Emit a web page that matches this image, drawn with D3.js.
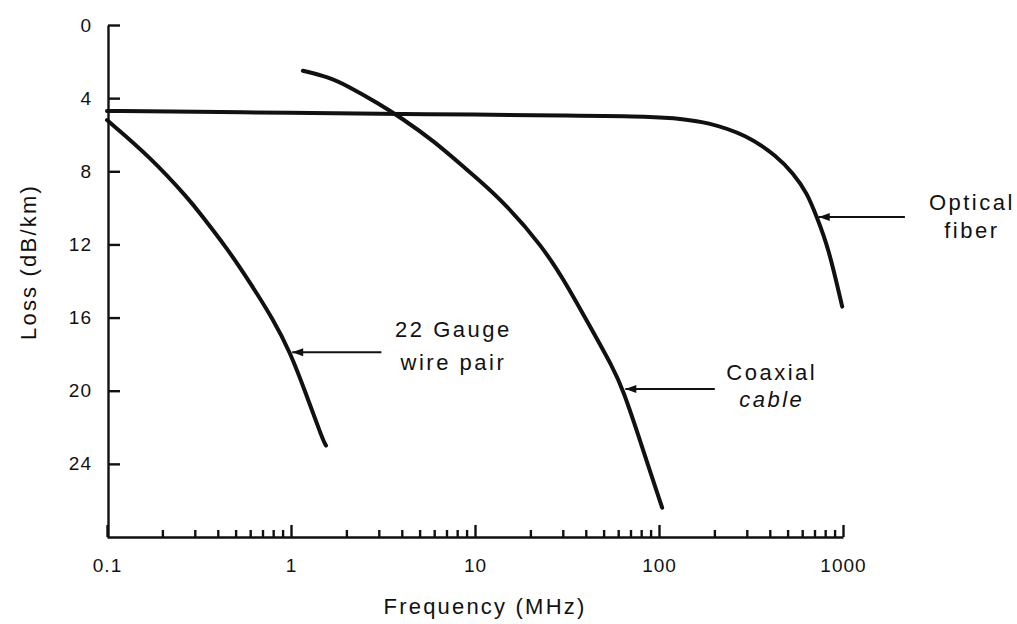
<!DOCTYPE html>
<html>
<head>
<meta charset="utf-8">
<script src="https://cdn.jsdelivr.net/npm/d3@7"></script>
<style>
  html, body { margin: 0; padding: 0; background: #fff; }
  svg { display: block; font-family: "Liberation Sans", Arial, sans-serif; }
  .axis path, .axis line { stroke: #111; stroke-width: 2.4; }
  .axis text { font-size: 19px; fill: #111; letter-spacing: 1px; }
  .curve { fill: none; stroke: #111; stroke-width: 4; stroke-linejoin: round; stroke-linecap: round; }
  .pointer { stroke: #111; stroke-width: 2; }
  .note { font-size: 22px; fill: #111; letter-spacing: 2.5px; }
  .title { font-size: 22px; fill: #111; letter-spacing: 2.2px; }
</style>
</head>
<body>
<div id="chart"></div>
<script>
// loss (dB/km) against frequency (MHz)
const opticalFiber = [
  [0.1, 4.7], [0.3, 4.75], [1, 4.8], [3, 4.85], [10, 4.9], [30, 4.95],
  [95, 5.0], [135, 5.15], [180, 5.3], [300, 6.0], [440, 7.2], [535, 8.1],
  [640, 9.2], [720, 10.5], [830, 12.1], [990, 15.4]
];
const coaxialCable = [
  [1.16, 2.5], [1.6, 2.85], [2.0, 3.3], [3.0, 4.3], [4.0, 5.1], [5.9, 6.3],
  [9.0, 7.9], [13.5, 9.4], [23.4, 12.1], [32.8, 14.5], [42.2, 16.5],
  [56, 18.7], [64, 20.0], [77, 22.4], [90, 24.5], [104, 26.4]
];
const wirePair = [
  [0.1, 5.2], [0.171, 7.2], [0.283, 9.6], [0.32, 10.3], [0.449, 12.2],
  [0.6, 14.1], [0.8, 16.1], [0.99, 17.9], [1.2, 20.1], [1.49, 22.7], [1.55, 23.0]
];

const lossTicks = [0, 4, 8, 12, 16, 20, 24];
const freqTicks = [0.1, 1, 10, 100, 1000];
const minorFreqTicks = freqTicks.slice(0, -1)
  .flatMap(d => [2, 3, 4, 5, 6, 7, 8, 9].map(k => +(d * k).toPrecision(3)));

// label text, the point on the curve the pointer touches, and where the pointer ends (MHz)
const noteLabels = [["22 Gauge", "wire pair"], ["Coaxial", "cable"], ["Optical", "fiber"]];
const noteAnchors = [[0.99, 17.9], [64, 19.9], [720, 10.5]];
const noteEnds = [3.1, 201, 2170];

// text placement relative to the pointer end (pixels)
const noteLayout = [
  { dx: 72, dy: [-15, 18], italic: [false, false] },
  { dx: 57, dy: [-9, 18], italic: [false, true] },
  { dx: 67, dy: [-7, 21], italic: [false, false] }
];

const width = 1017;
const height = 624;

const x = d3.scaleLog().domain([0.1, 1000]).range([107, 843]);
const y = d3.scaleLinear().domain([0, 28]).range([25, 537]);

const svg = d3.select('#chart').append('svg')
  .attr('width', width)
  .attr('height', height);

svg.append('rect').attr('width', width).attr('height', height).attr('fill', '#fff');

// axes, ticks pointing into the plot
svg.append('g')
  .attr('class', 'axis x minor')
  .attr('transform', `translate(0,${y(28)})`)
  .call(d3.axisBottom(x).tickValues(minorFreqTicks).tickSize(-7).tickSizeOuter(0).tickFormat(''))
  .call(g => g.select('.domain').remove());

svg.append('g')
  .attr('class', 'axis x')
  .attr('transform', `translate(0,${y(28)})`)
  .call(d3.axisBottom(x).tickValues(freqTicks).tickSize(-12).tickSizeOuter(0)
    .tickPadding(22).tickFormat(d => String(d)));

svg.append('g')
  .attr('class', 'axis y')
  .attr('transform', `translate(${x(0.1) + 1},0)`)
  .call(d3.axisLeft(y).tickValues(lossTicks).tickSize(-12).tickSizeOuter(0)
    .tickPadding(16).tickFormat(d => String(d)));

// curves, smoothed like the hand-drawn original
const line = d3.line()
  .curve(d3.curveBasis)
  .x(d => x(d[0]))
  .y(d => y(d[1]));

svg.append('g')
  .selectAll('path')
  .data([opticalFiber, coaxialCable, wirePair])
  .join('path')
  .attr('class', 'curve')
  .attr('d', line);

// pointers and labels
noteAnchors.forEach((a, i) => {
  const x0 = x(a[0]) + 2;
  const y0 = y(a[1]);
  const x1 = x(noteEnds[i]);
  const g = svg.append('g');

  g.append('line')
    .attr('class', 'pointer')
    .attr('x1', x0).attr('y1', y0)
    .attr('x2', x1).attr('y2', y0);

  g.append('path')
    .attr('d', `M${x0},${y0} l11,-4 l0,8 z`)
    .attr('fill', '#111');

  const layout = noteLayout[i];
  g.selectAll('text')
    .data(noteLabels[i])
    .join('text')
    .attr('class', 'note')
    .attr('text-anchor', 'middle')
    .attr('x', x1 + layout.dx)
    .attr('y', (d, j) => y0 + layout.dy[j])
    .style('font-style', (d, j) => layout.italic[j] ? 'italic' : 'normal')
    .text(d => d);
});

// axis titles
svg.append('text')
  .attr('class', 'title')
  .attr('text-anchor', 'middle')
  .attr('x', 485)
  .attr('y', 614)
  .text('Frequency (MHz)');

svg.append('text')
  .attr('class', 'title')
  .attr('text-anchor', 'middle')
  .attr('transform', 'translate(36,262) rotate(-90)')
  .text('Loss (dB/km)');
</script>
</body>
</html>
